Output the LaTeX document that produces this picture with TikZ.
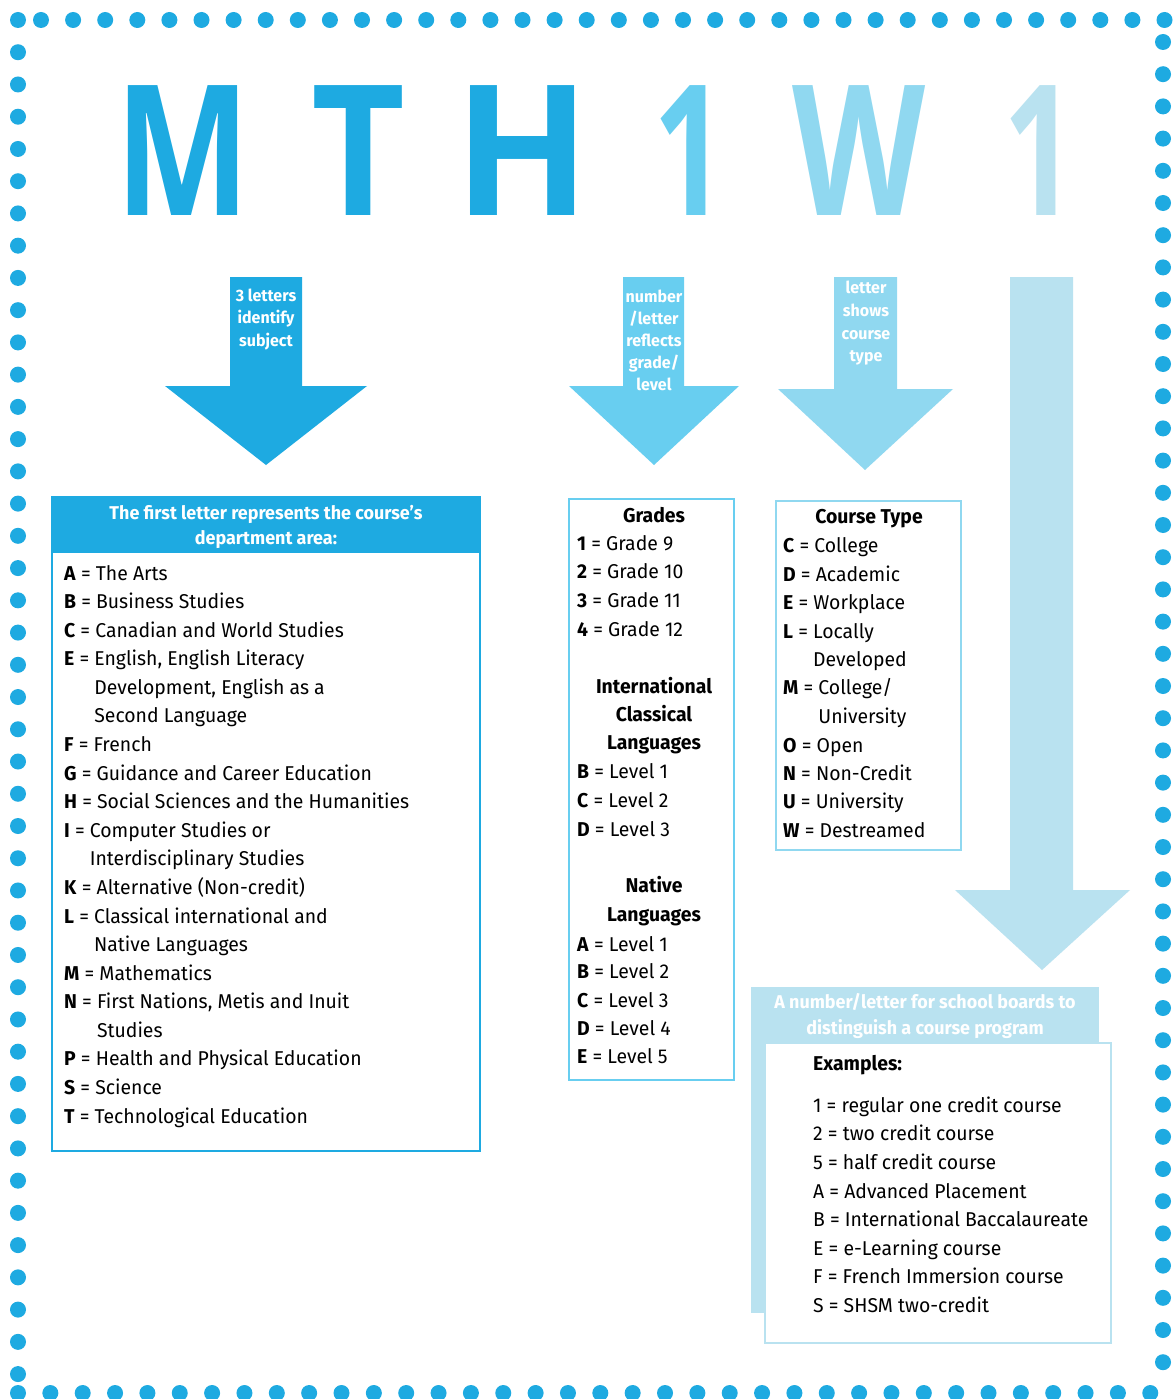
\documentclass[tikz,border=0pt]{standalone}
\usepackage{fontspec}
\setmainfont{Fira Sans}[FakeStretch=0.97]
\newfontfamily\bigfont{Open Sans}[FakeStretch=0.85]
\usepackage{graphicx}
\definecolor{cA}{HTML}{1EAAE1}
\definecolor{cB}{HTML}{68CEF0}
\definecolor{cC}{HTML}{90D8F0}
\definecolor{cD}{HTML}{B9E2F0}
\newcommand\ind[1]{\phantom{\textbf{#1} = }}
\tikzset{
  body/.style={anchor=base west, inner sep=0, font=\fontsize{20}{24}\selectfont, text=black},
  hd/.style={anchor=base, inner sep=0, font=\fontsize{20}{24}\selectfont\bfseries, text=black},
  hdw/.style={anchor=base, inner sep=0, font=\fontsize{18.5}{22}\selectfont\bfseries, text=white},
  arrtxt/.style={anchor=base, inner sep=0, font=\fontsize{16.5}{20}\selectfont\bfseries, text=white},
  big/.style={anchor=base, inner sep=0, font=\bigfont\fontsize{182}{190}\selectfont\bfseries},
  dotmark/.style={fill=cA},
}
\begin{document}
\begin{tikzpicture}[x=1pt,y=-1pt]
\useasboundingbox (0,0) rectangle (1172,1399);
\fill[white] (0,0) rectangle (1172,1399);
% dotted frame
\fill[dotmark] (18,20) circle (8);
\foreach \i in {0,...,35} \fill[dotmark] (41+32.1*\i,20) circle (8);
\foreach \i in {1,...,42} \fill[dotmark] (18,20+32.24*\i) circle (8);
\foreach \i in {0,...,41} \fill[dotmark] (1163,42+32.2*\i) circle (8);
\foreach \i in {0,...,36} \fill[dotmark] (18+32.35*\i,1393) circle (8);
% big code letters
\node[big, text=cA] (bM) at (182.5,215) {\scalebox{0.925}[1]{M}};
\node[big, text=cA] (bT) at (359,215) {\scalebox{1.05}[1]{T}};
\node[big, text=cA] (bH) at (522.5,215) {\scalebox{1.15}[1]{H}};
\node[big, text=cB] (bOne) at (689.5,215) {\scalebox{0.82}[1]{1}};
\node[big, text=cC] (bW) at (859,215) {\scalebox{0.89}[1]{W}};
\node[big, text=cD] (bTwo) at (1039.5,215) {\scalebox{0.82}[1]{1}};
% arrows
\fill[cA] (230,277) -- (302,277) -- (302,386) -- (367,386) -- (266,465) -- (165,386) -- (230,386) -- cycle;
\fill[cB] (623,277) -- (684,277) -- (684,386) -- (739,386) -- (654,465) -- (569,386) -- (623,386) -- cycle;
\fill[cC] (834,277) -- (897,277) -- (897,389) -- (953,389) -- (865,470) -- (778,389) -- (834,389) -- cycle;
\fill[cD] (1010,277) -- (1073,277) -- (1073,890) -- (1130,890) -- (1042,970) -- (955,890) -- (1010,890) -- cycle;
\foreach \yy/\q [count=\i] in {301/{3 letters}, 323/{identify}, 346/{subject}}
  \node[arrtxt] (aa\i) at (266,\yy) {\q};
\foreach \yy/\q [count=\i] in {302/{number}, 324/{/letter}, 346/{reflects}, 368/{grade/}, 390/{level}}
  \node[arrtxt] (ab\i) at (654,\yy) {\q};
\foreach \yy/\q [count=\i] in {293/{letter}, 316/{shows}, 339/{course}, 361/{type}}
  \node[arrtxt] (ac\i) at (866,\yy) {\q};
% box 1
\fill[cA] (52,497) rectangle (480,553);
\draw[cA, line width=2.5] (52,497) rectangle (480,1151);
\node[hdw] (h1a) at (266,519) {The first letter represents the course’s};
\node[hdw] (h1b) at (266,544) {department area:};
\foreach \yy/\q [count=\i] in {
  580/{\textbf{A} = The Arts},
  608.6/{\textbf{B} = Business Studies},
  637.2/{\textbf{C} = Canadian and World Studies},
  665.7/{\textbf{E} = English, English Literacy},
  694.3/{\ind{E}Development, English as a},
  722.9/{\ind{E}Second Language},
  751.5/{\textbf{F} = French},
  780.1/{\textbf{G} = Guidance and Career Education},
  808.7/{\textbf{H} = Social Sciences and the Humanities},
  837.2/{\textbf{I} = Computer Studies or},
  865.8/{\ind{I}Interdisciplinary Studies},
  894.4/{\textbf{K} = Alternative (Non-credit)},
  923/{\textbf{L} = Classical international and},
  951.6/{\ind{L}Native Languages},
  980.2/{\textbf{M} = Mathematics},
  1008.7/{\textbf{N} = First Nations, Metis and Inuit},
  1037.3/{\ind{N}Studies},
  1065.9/{\textbf{P} = Health and Physical Education},
  1094.5/{\textbf{S} = Science},
  1123/{\textbf{T} = Technological Education}}
  \node[body] (d\i) at (64,\yy) {\q};
% box 2 grades
\draw[cB, line width=2.5] (569,499) rectangle (734,1080);
\node[hd] (g0) at (654,522) {Grades};
\node[hd] (g5) at (654,693) {International};
\node[hd] (g6) at (654,721) {Classical};
\node[hd] (g7) at (654,749) {Languages};
\node[hd] (g11) at (654,892) {Native};
\node[hd] (g12) at (654,921) {Languages};
\foreach \yy/\q [count=\i] in {
  550/{\textbf{1} = Grade 9},
  578.5/{\textbf{2} = Grade 10},
  607/{\textbf{3} = Grade 11},
  636/{\textbf{4} = Grade 12},
  778/{\textbf{B} = Level 1},
  807/{\textbf{C} = Level 2},
  836/{\textbf{D} = Level 3},
  951/{\textbf{A} = Level 1},
  978.5/{\textbf{B} = Level 2},
  1007/{\textbf{C} = Level 3},
  1035/{\textbf{D} = Level 4},
  1063/{\textbf{E} = Level 5}}
  \node[body] (gl\i) at (577,\yy) {\q};
% box 3 course type
\draw[cC, line width=2.5] (776,501) rectangle (961,850);
\node[hd] (t0) at (869,523) {Course Type};
\foreach \yy/\q [count=\i] in {
  552/{\textbf{C} = College},
  581/{\textbf{D} = Academic},
  609/{\textbf{E} = Workplace},
  638/{\textbf{L} = Locally},
  666/{\ind{L}Developed},
  694/{\textbf{M} = College/},
  723/{\ind{M}University},
  752/{\textbf{O} = Open},
  780/{\textbf{N} = Non-Credit},
  808/{\textbf{U} = University},
  837/{\textbf{W} = Destreamed}}
  \node[body] (tl\i) at (783,\yy) {\q};
% box 4 examples
\fill[cD] (751,987) rectangle (1099,1313);
\draw[cD, line width=2.5, fill=white] (765,1043) rectangle (1111,1343);
\node[hdw] (h4a) at (925,1008) {A number/letter for school boards to};
\node[hdw] (h4b) at (925,1034) {distinguish a course program};
\node[body, font=\fontsize{20}{24}\selectfont\bfseries] (e0) at (813,1070) {Examples:};
\foreach \yy/\q [count=\i] in {
  1112/{1 = regular one credit course},
  1140.5/{2 = two credit course},
  1169/{5 = half credit course},
  1198/{A = Advanced Placement},
  1226/{B = International Baccalaureate},
  1255/{E = e-Learning course},
  1283/{F = French Immersion course},
  1312/{S = SHSM two-credit}}
  \node[body] (el\i) at (813,\yy) {\q};
\end{tikzpicture}
\end{document}
